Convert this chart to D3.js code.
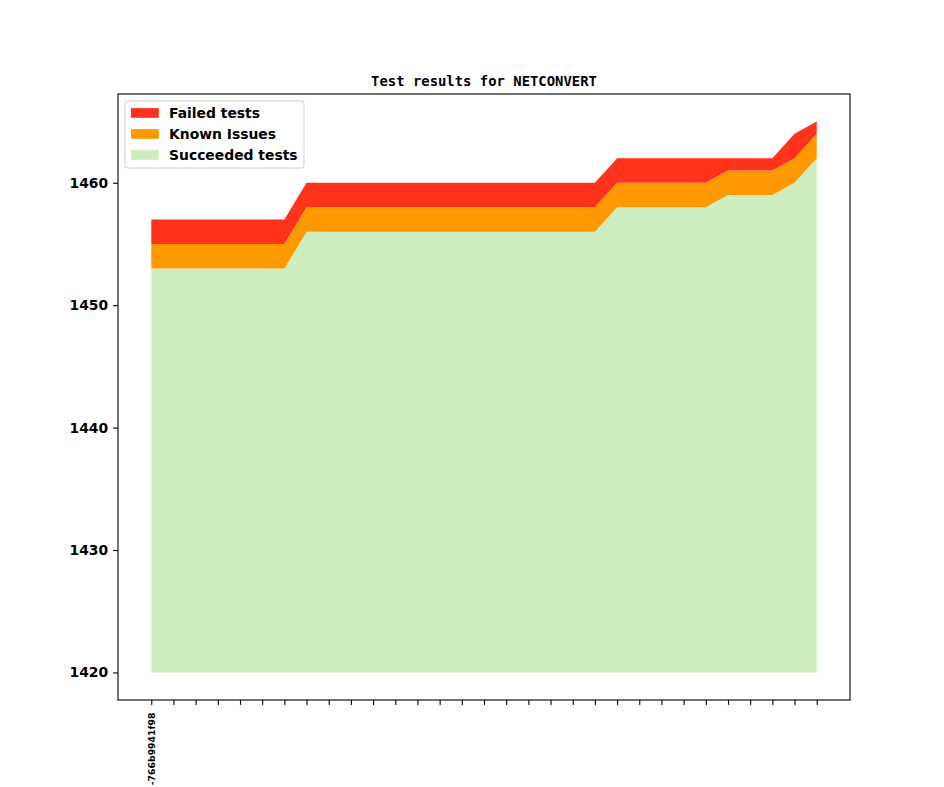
<!DOCTYPE html>
<html>
<head>
<meta charset="utf-8">
<script src="https://cdn.jsdelivr.net/npm/d3@7/dist/d3.min.js"></script>
<style>
  html, body { margin: 0; padding: 0; background: #fff; }
  svg { display: block; }
</style>
</head>
<body>
<svg id="chart" width="944" height="787"></svg>
<script>
// ---- data ----
const builds = d3.range(31).map(i => i === 0 ? "-766b9941f98" : "");
const succeeded = [1453,1453,1453,1453,1453,1453,1453,
                   1456,1456,1456,1456,1456,1456,1456,1456,1456,1456,1456,1456,1456,1456,
                   1458,1458,1458,1458,1458,
                   1459,1459,1459,
                   1460,1462];
const knownIssues = [2,2,2,2,2,2,2,2,2,2,2,2,2,2,2,2,2,2,2,2,2,2,2,2,2,2,2,2,2,2,2];
const failed = [2,2,2,2,2,2,2,2,2,2,2,2,2,2,2,2,2,2,2,2,2,2,2,2,2,2,1,1,1,2,1];
const baseline = 1420;
const yTicks = [1420, 1430, 1440, 1450, 1460];
const seriesNames = ["Succeeded tests", "Known Issues", "Failed tests"];
const seriesColors = ["#CEEDBE", "#FF9900", "#FF331C"];
const title = "Test results for NETCONVERT";

// ---- layout ----
const svg = d3.select("#chart");
const plot = { left: 118, right: 850, top: 94, bottom: 700 };

const rows = builds.map((b, i) => ({
  i, build: b,
  "Succeeded tests": succeeded[i],
  "Known Issues": knownIssues[i],
  "Failed tests": failed[i]
}));

const stacked = d3.stack().keys(seriesNames)(rows);

const n = builds.length;
const x = d3.scaleLinear().domain([-1.5, n - 1 + 1.5]).range([plot.left, plot.right]);
const ymin = baseline, ymax = d3.max(rows, r => r["Succeeded tests"] + r["Known Issues"] + r["Failed tests"]);
const pad = (ymax - ymin) * 0.05;
const y = d3.scaleLinear().domain([ymin - pad, ymax + pad]).range([plot.bottom, plot.top]);

const area = d3.area()
  .x(d => x(d.data.i))
  .y0(d => y(d[0] === 0 ? baseline : d[0]))
  .y1(d => y(d[1]));

svg.append("g").selectAll("path")
  .data(stacked)
  .join("path")
  .attr("d", area)
  .attr("fill", (d, k) => seriesColors[k])
  .attr("stroke", "none");

// ---- axes ----
const xAxis = d3.axisBottom(x)
  .tickValues(d3.range(n))
  .tickFormat(i => builds[i])
  .tickSize(4.9)
  .tickPadding(4.9);
const gx = svg.append("g")
  .attr("transform", `translate(0,${plot.bottom})`)
  .call(xAxis);
gx.select(".domain").remove();
gx.selectAll(".tick line").attr("stroke", "#000").attr("stroke-width", 1.1);
gx.selectAll(".tick text")
  .attr("font-family", "DejaVu Sans")
  .attr("font-weight", "bold")
  .attr("font-size", "9.3px")
  .attr("fill", "#000")
  .attr("text-anchor", "end")
  .attr("dy", "0.35em")
  .attr("transform", "translate(0,12.5) rotate(-90)")
  .attr("x", 0)
  .attr("y", 0);

const yAxis = d3.axisLeft(y)
  .tickValues(yTicks)
  .tickFormat(d3.format("d"))
  .tickSize(4.9)
  .tickPadding(4.9);
const gy = svg.append("g")
  .attr("transform", `translate(${plot.left},0)`)
  .call(yAxis);
gy.select(".domain").remove();
gy.selectAll(".tick line").attr("stroke", "#000").attr("stroke-width", 1.1);
gy.selectAll(".tick text")
  .attr("font-family", "DejaVu Sans")
  .attr("font-weight", "bold")
  .attr("font-size", "13.9px")
  .attr("fill", "#000");

// frame
svg.append("rect")
  .attr("x", plot.left).attr("y", plot.top)
  .attr("width", plot.right - plot.left).attr("height", plot.bottom - plot.top)
  .attr("fill", "none").attr("stroke", "#000").attr("stroke-width", 1.1);

// title
svg.append("text")
  .attr("x", (plot.left + plot.right) / 2)
  .attr("y", 86)
  .attr("text-anchor", "middle")
  .attr("font-family", "DejaVu Sans Mono")
  .attr("font-weight", "bold")
  .attr("font-size", "13.9px")
  .attr("fill", "#000")
  .text(title);

// legend
const legendItems = [
  { name: "Failed tests", color: seriesColors[2] },
  { name: "Known Issues", color: seriesColors[1] },
  { name: "Succeeded tests", color: seriesColors[0] }
];
const lg = svg.append("g");
lg.append("rect")
  .attr("x", 125).attr("y", 101).attr("width", 179).attr("height", 67)
  .attr("rx", 3).attr("ry", 3)
  .attr("fill", "#fff").attr("fill-opacity", 0.8)
  .attr("stroke", "#ccc").attr("stroke-width", 1);
legendItems.forEach((it, k) => {
  const cy = 113 + k * 21;
  lg.append("rect")
    .attr("x", 131).attr("y", cy - 4.9).attr("width", 27.8).attr("height", 9.7)
    .attr("fill", it.color);
  lg.append("text")
    .attr("x", 169).attr("y", cy)
    .attr("dy", "0.35em")
    .attr("font-family", "DejaVu Sans")
    .attr("font-weight", "bold")
    .attr("font-size", "13.9px")
    .attr("fill", "#000")
    .text(it.name);
});
</script>
</body>
</html>
